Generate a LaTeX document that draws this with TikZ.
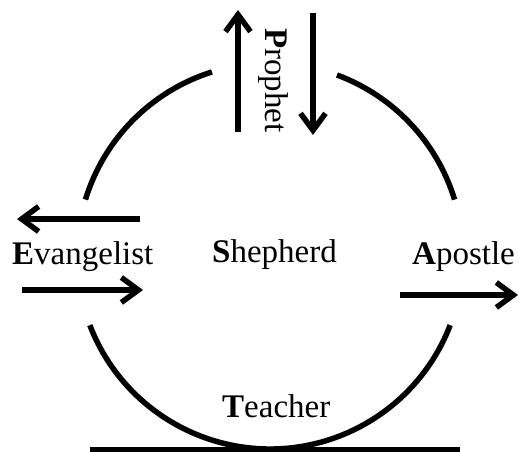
\documentclass[tikz,border=0pt]{standalone}
\usepackage{fontspec}
\setmainfont{Liberation Serif}
\usetikzlibrary{arrows.meta}
\begin{document}
\begin{tikzpicture}[x=1pt,y=1pt,
  ring/.style={line width=5.5pt},
  flow/.style={line width=5.5pt,-{Straight Barb[length=17pt,width=25pt]}},
  word/.style={font=\fontsize{33}{36}\selectfont, inner sep=0pt, anchor=base west}]
\useasboundingbox (0,0) rectangle (519,452);
\coordinate (c) at (270,196);
% circle arcs
\draw[ring] (c) ++(163:193) arc[start angle=163,end angle=107.5,radius=193];
\draw[ring] (c) ++(69.7:193) arc[start angle=69.7,end angle=17,radius=193];
\draw[ring] (c) ++(201:193) arc[start angle=201,end angle=339,radius=193];
% ground line
\coordinate (g1) at (90,2.5);
\coordinate (g2) at (460,2.5);
\draw[line width=5pt] (g1) -- (g2);
% labels
\node[word] (ev) at (12,187) {\textbf{E}vangelist};
\node[word] (sh) at (212,189) {\textbf{S}hepherd};
\node[word] (ap) at (412,187) {\textbf{A}postle};
\node[word] (te) at (222,34) {\textbf{T}eacher};
\node[word, rotate=-90] (pr) at (265,424) {\textbf{P}rophet};
% arrows
\coordinate (u1) at (238,320); \coordinate (u2) at (238,442);
\coordinate (d1) at (313,439); \coordinate (d2) at (313,317);
\coordinate (l1) at (140,233); \coordinate (l2) at (17,233);
\coordinate (r1) at (22,162);  \coordinate (r2) at (143,162);
\coordinate (a1) at (400,157); \coordinate (a2) at (518,157);
\draw[flow] (u1) -- (u2);
\draw[flow] (d1) -- (d2);
\draw[flow] (l1) -- (l2);
\draw[flow] (r1) -- (r2);
\draw[flow] (a1) -- (a2);
\end{tikzpicture}
\end{document}
